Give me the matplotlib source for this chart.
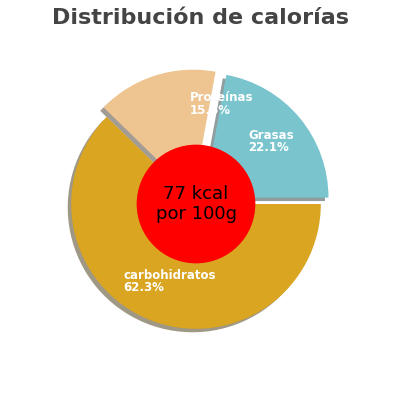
import matplotlib
matplotlib.use("Agg")
import matplotlib.pyplot as plt

labels = ["Grasas", "Proteínas", "carbohidratos"]
values = [22.1, 15.6, 62.3]
colors = ["#7ac5cd", "#eec591", "#daa520"]
center_text = "77 kcal\npor 100g"

fig = plt.figure(figsize=(4, 4), dpi=100)
ax = fig.add_axes([0.1, 0.1, 0.78, 0.78])
wedges, _ = ax.pie(values, colors=colors, startangle=0, counterclock=True,
                   explode=[0.08, 0.08, 0.0], shadow=True,
                   wedgeprops=dict(linewidth=0))
ax.add_patch(plt.Circle((0, 0), 0.47, color="red", zorder=5))
ax.text(0, 0, center_text, ha="center", va="center", fontsize=13, zorder=6)
pos = [(0.42, 0.50), (-0.05, 0.80), (-0.58, -0.62)]
for (x, y), l, v in zip(pos, labels, values):
    ax.text(x, y, f"{l}\n{v}%", color="white", fontsize=8.5, fontweight="bold",
            ha="left", va="center", zorder=6, linespacing=0.95)
ax.set_aspect("equal")
fig.text(0.5, 0.955, "Distribución de calorías", ha="center", va="center",
         fontsize=16, fontweight="bold", color="#444444")
fig.savefig("out.png")
